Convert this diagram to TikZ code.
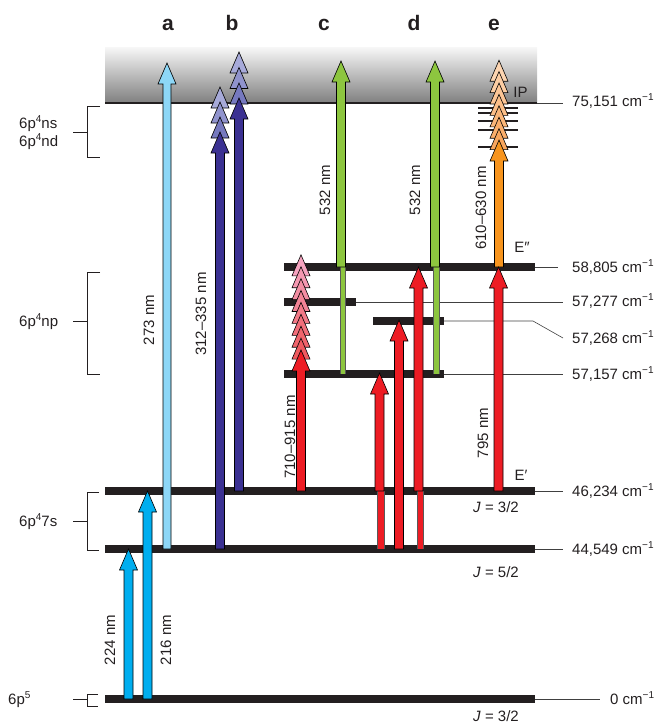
\documentclass[tikz,border=0pt]{standalone}
\usepackage{fontspec}
\setmainfont{Liberation Sans}
\definecolor{barC}{HTML}{231F20}
\definecolor{ltblue}{HTML}{8DD7F7}
\definecolor{cyanC}{HTML}{00AEEF}
\definecolor{navy}{HTML}{3B3192}
\definecolor{lavA}{HTML}{A7AAD9}
\definecolor{lavB}{HTML}{9093CD}
\definecolor{lavC}{HTML}{7679BF}
\definecolor{greenC}{HTML}{8DC63F}
\definecolor{redC}{HTML}{ED1C24}
\definecolor{coralC}{HTML}{EF5A5F}
\definecolor{pinkC}{HTML}{F5A3BF}
\definecolor{orangeC}{HTML}{F7941D}
\definecolor{orangeB}{HTML}{F9A75E}
\definecolor{peachC}{HTML}{FDD5B1}
\newcommand{\sups}[1]{\raisebox{5.5pt}{\fontsize{10}{10}\selectfont#1}}
\tikzset{
  arrowline/.style={draw=black, line width=0.6pt, line join=miter},
  narrowpart/.style={draw=black!65, line width=0.4pt},
  levelbar/.style={draw=barC, line width=8pt, line cap=butt},
  thinl/.style={draw=black!75, line width=0.6pt},
  ryd/.style={draw=barC, line width=2.2pt},
  lbl/.style={font=\fontsize{15}{18}\selectfont, text=barC, inner sep=0pt},
  rlbl/.style={lbl, rotate=90},
  collbl/.style={font=\fontsize{21}{24}\selectfont\bfseries, text=barC, inner sep=0pt, anchor=base},
  brk/.style={draw=barC, line width=0.6pt}
}
% #1 shaft half width, #2 x, #3 y base, #4 y tip, #5 colour
\newcommand{\fatarrow}[5][4.5]{%
  \filldraw[arrowline, fill=#5] ({#2-#1},#3) -- ({#2-#1},{#4+21}) -- ({#2-9},{#4+21}) -- (#2,#4) -- ({#2+9},{#4+21}) -- ({#2+#1},{#4+21}) -- ({#2+#1},#3) -- cycle;}
\newcommand{\headonly}[3]{%
  \filldraw[arrowline, fill=#3] ({#1-9},{#2+21}) -- (#1,#2) -- ({#1+9},{#2+21}) -- cycle;}
% narrow shaft part: #1 x left, #2 x right, #3 y bottom, #4 y top, #5 colour
\newcommand{\narrowshaft}[5]{%
  \fill[#5] (#1,#3) rectangle (#2,#4);
  \draw[narrowpart] (#1,#3) -- (#1,#4);
  \draw[narrowpart] (#2,#3) -- (#2,#4);}
\begin{document}
\begin{tikzpicture}[x=1pt,y=-1pt]
\useasboundingbox (0,0) rectangle (662,724);
% continuum band
\shade[top color=black!3, middle color=black!17, bottom color=black!50] (105,47) rectangle (537,103);
\draw[draw=barC, line width=1.2pt] (105,103) -- (537,103);
% thin leader lines
\draw[thinl] (537,103) -- (563,103);
\draw[thinl] (535,267) -- (558,267);
\draw[thinl] (356,302) -- (563,302);
\draw[thinl] (444,321) -- (533,321) -- (563,338);
\draw[thinl] (444,374) -- (563,374);
\draw[thinl] (535,491) -- (563,491);
\draw[thinl] (535,549) -- (563,549);
\draw[thinl] (535,699) -- (600,699);
% level bars
\draw[levelbar] (105,699) -- (535,699);
\draw[levelbar] (105,549) -- (535,549);
\draw[levelbar] (105,491) -- (535,491);
\draw[levelbar] (284,374) -- (444,374);
\draw[levelbar] (373,321) -- (444,321);
\draw[levelbar] (284,302) -- (356,302);
\draw[levelbar] (284,267) -- (535,267);
% Rydberg lines
\foreach \yy in {108,113,121,130,147} \draw[ryd] (478,\yy) -- (518,\yy);
% brackets
\draw[brk] (100,106) -- (87,106) -- (87,157) -- (100,157);
\draw[brk] (73,132) -- (87,132);
\draw[brk] (100,272) -- (87,272) -- (87,374) -- (100,374);
\draw[brk] (73,321) -- (87,321);
\draw[brk] (99,492) -- (87,492) -- (87,550) -- (99,550);
\draw[brk] (73,521) -- (87,521);
\draw[brk] (98,694) -- (87,694) -- (87,706) -- (98,706);
\draw[brk] (73,699) -- (87,699);
% arrows: bottom (cyan)
\fatarrow{128.5}{699}{549}{cyanC}
\fatarrow{147.5}{699}{491}{cyanC}
% a
\fatarrow[4]{167}{549}{63}{ltblue}
% b
\headonly{220}{87}{lavA}
\headonly{220}{102}{lavB}
\headonly{220}{117}{lavC}
\fatarrow{220}{549}{132}{navy}
\headonly{239}{52}{lavA}
\headonly{239}{67.5}{lavB}
\headonly{239}{83}{lavC}
\fatarrow{239}{491}{98}{navy}
% c
\narrowshaft{340.5}{345.5}{374}{267}{greenC}
\fatarrow{341}{267}{61}{greenC}
\foreach \k in {8,7,...,1}{%
  \pgfmathsetmacro{\yy}{350-\k*11.9}%
  \pgfmathtruncatemacro{\pp}{(\k-1)*100/7}%
  \colorlet{tmpc}{pinkC!\pp!coralC}%
  \headonly{301}{\yy}{tmpc}}
\fatarrow{301}{491}{350}{redC}
% d
\narrowshaft{433.5}{439.5}{374}{267}{greenC}
\fatarrow{435}{267}{61}{greenC}
\narrowshaft{377.5}{384}{549}{491}{redC}
\fatarrow{379.5}{491}{373}{redC}
\fatarrow{399}{549}{320}{redC}
\narrowshaft{417.5}{423}{549}{491}{redC}
\fatarrow{418.5}{491}{267}{redC}
% e
\foreach \k in {7,6,...,1}{%
  \pgfmathsetmacro{\yy}{140-\k*11.4}%
  \pgfmathtruncatemacro{\pp}{(\k-1)*100/6}%
  \colorlet{tmpc}{peachC!\pp!orangeB}%
  \headonly{499}{\yy}{tmpc}}
\fatarrow{499}{267}{140}{orangeC}
\fatarrow{498.5}{491}{267}{redC}
% column labels
\node[collbl] (ca) at (168,30) {a};
\node[collbl] (cb) at (232,30) {b};
\node[collbl] (cc) at (324,30) {c};
\node[collbl] (cd) at (414,30) {d};
\node[collbl] (ce) at (494,30) {e};
% wavelength labels
\node[rlbl] (w224) at (110,640) {224 nm};
\node[rlbl] (w216) at (166,640) {216 nm};
\node[rlbl] (w273) at (149,320) {273 nm};
\node[rlbl] (w312) at (201,314) {312–335 nm};
\node[rlbl] (w532c) at (325,190) {532 nm};
\node[rlbl] (w710) at (290,437) {710–915 nm};
\node[rlbl] (w532d) at (415,190) {532 nm};
\node[rlbl] (w610) at (481,208) {610–630 nm};
\node[rlbl] (w795) at (483,433) {795 nm};
% energy labels
\node[lbl, anchor=base west] (e75) at (572,106) {75,151 cm\sups{−1}};
\node[lbl, anchor=base west] (e58) at (572,272) {58,805 cm\sups{−1}};
\node[lbl, anchor=base west] (e577) at (572,306) {57,277 cm\sups{−1}};
\node[lbl, anchor=base west] (e568) at (572,343) {57,268 cm\sups{−1}};
\node[lbl, anchor=base west] (e57) at (572,379) {57,157 cm\sups{−1}};
\node[lbl, anchor=base west] (e46) at (572,496) {46,234 cm\sups{−1}};
\node[lbl, anchor=base west] (e44) at (572,554) {44,549 cm\sups{−1}};
\node[lbl, anchor=base west] (e0) at (610,704) {0 cm\sups{−1}};
% other labels
\node[lbl, anchor=base] (ip) at (520.5,97) {IP};
\node[lbl, anchor=base] (epp) at (522,252) {E″};
\node[lbl, anchor=base] (ep) at (521,480) {E′};
\node[lbl, anchor=base] (j1) at (496,512) {\textit{J} = 3/2};
\node[lbl, anchor=base] (j2) at (496,577) {\textit{J} = 5/2};
\node[lbl, anchor=base] (j3) at (496,721) {\textit{J} = 3/2};
% configuration labels
\node[lbl, anchor=base west] (cns) at (19,128) {6p\sups{4}ns};
\node[lbl, anchor=base west] (cnd) at (19,146) {6p\sups{4}nd};
\node[lbl, anchor=base west] (cnp) at (19,326) {6p\sups{4}np};
\node[lbl, anchor=base west] (c7s) at (19,526) {6p\sups{4}7s};
\node[lbl, anchor=base west] (c5) at (8,704) {6p\sups{5}};
\end{tikzpicture}
\end{document}
